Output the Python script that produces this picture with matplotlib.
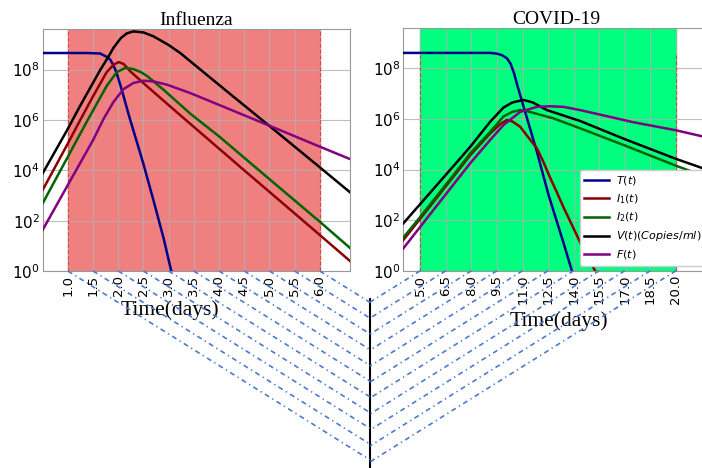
import numpy as np
import matplotlib
matplotlib.use("Agg")
import matplotlib.pyplot as plt
from matplotlib.lines import Line2D
from matplotlib.ticker import NullLocator

# ---- Influenza (days, values)
flu_T_t = [0.5, 1.4, 1.64, 1.78, 1.84, 1.91, 1.97, 2.07, 2.22, 2.5, 2.7, 2.9, 3.04, 3.15]
flu_T = [4.57e8, 4.57e8, 4.37e8, 3.16e8, 2.51e8, 1.41e8, 7.08e7, 1.58e7, 1.32e6, 1.78e4, 631, 20, 1.26, 0.2]
flu_I1_t = [0.5, 1.0, 1.24, 1.51, 1.77, 1.91, 2.01, 2.11, 2.24, 2.57, 3.23, 4.5, 5.5, 6.0, 6.61]
flu_I1 = [1.66e3, 1.17e5, 9.5e5, 9.5e6, 7.94e7, 1.58e8, 2.0e8, 1.66e8, 8.5e7, 2.19e7, 1.55e6, 1.0e4, 195, 27, 2.4]
flu_I2_t = [0.5, 1.0, 1.38, 1.77, 1.97, 2.14, 2.3, 2.45, 2.57, 2.9, 3.43, 4.0, 5.0, 6.0, 6.61]
flu_I2 = [490, 3.47e4, 8.9e5, 2.24e7, 7.94e7, 1.17e8, 1.05e8, 7.94e7, 5.62e7, 1.58e7, 1.78e6, 2.24e5, 4.47e3, 91, 7.9]
flu_V_t = [0.5, 1.0, 1.24, 1.64, 1.80, 1.91, 2.05, 2.17, 2.3, 2.5, 2.7, 3.0, 3.23, 3.43, 4.29, 5.05, 6.0, 6.61]
flu_V = [7.6e3, 4.47e5, 3.55e6, 9.5e7, 3.16e8, 7.6e8, 1.78e9, 2.75e9, 3.3e9, 3.0e9, 2.1e9, 9.5e8, 4.57e8, 2.14e8, 8.3e6, 4.8e5, 1.32e4, 1.29e3]
flu_F_t = [0.5, 1.0, 1.5, 1.71, 1.9, 2.1, 2.3, 2.5, 2.7, 2.97, 3.43, 4.29, 5.05, 6.0, 6.61]
flu_F = [43, 2.63e3, 1.58e5, 1.12e6, 5.0e6, 1.66e7, 2.95e7, 3.63e7, 3.39e7, 2.51e7, 1.17e7, 2.29e6, 5.4e5, 8.7e4, 2.75e4]

# ---- COVID-19
cov_T_t = [4.0, 9.1, 9.49, 9.8, 10.08, 10.3, 10.5, 10.7, 11.25, 11.84, 12.52, 13.4, 13.89, 14.1]
cov_T = [4.07e8, 4.07e8, 3.8e8, 3.3e8, 2.5e8, 1.5e8, 6.3e7, 2.0e7, 1.12e6, 5.0e4, 1.0e3, 12.6, 1.0, 0.32]
cov_I1_t = [4.0, 5.0, 7.0, 7.93, 9.1, 9.7, 10.08, 10.4, 10.86, 11.3, 11.84, 12.22, 12.6, 13.0, 13.4, 14.57, 15.25, 15.6]
cov_I1 = [16.2, 115, 5.9e3, 3.7e4, 2.7e5, 6.3e5, 9.1e5, 7.94e5, 4.9e5, 2.0e5, 6.9e4, 2.0e4, 5.0e3, 1.3e3, 320, 7.1, 1.0, 0.4]
cov_I2_t = [4.0, 5.0, 7.0, 7.93, 9.1, 9.88, 10.4, 10.86, 11.3, 12.0, 12.81, 14.37, 17.0, 20.0, 22.0]
cov_I2 = [20.4, 135, 6.8e3, 4.37e4, 3.1e5, 1.26e6, 1.9e6, 2.24e6, 2.0e6, 1.48e6, 1.05e6, 4.27e5, 8.9e4, 1.41e4, 4.47e3]
cov_V_t = [4.0, 5.0, 7.0, 7.93, 9.1, 9.88, 10.4, 11.05, 11.6, 12.42, 14.37, 17.0, 20.0, 22.0]
cov_V = [74, 437, 1.51e4, 7.94e4, 7.76e5, 2.82e6, 4.47e6, 5.62e6, 4.47e6, 2.24e6, 8.3e5, 1.58e5, 2.63e4, 8.9e3]
cov_F_t = [4.0, 5.0, 7.93, 9.1, 9.88, 10.86, 11.84, 12.6, 13.4, 14.37, 17.5, 20.0, 22.0]
cov_F = [7.6, 55, 1.78e4, 1.48e5, 5.75e5, 1.9e6, 3.0e6, 3.16e6, 3.0e6, 2.24e6, 7.4e5, 3.55e5, 1.74e5]

flu_ticks = [1.0, 1.5, 2.0, 2.5, 3.0, 3.5, 4.0, 4.5, 5.0, 5.5, 6.0]
cov_ticks = [5.0, 6.5, 8.0, 9.5, 11.0, 12.5, 14.0, 15.5, 17.0, 18.5, 20.0]
yticks = [1e0, 1e2, 1e4, 1e6, 1e8]

labels = ["$T(t)$", "$I_1(t)$", "$I_2(t)$", "$V(t)(Copies/ml)$", "$F(t)$"]
colors = ["darkblue", "darkred", "darkgreen", "black", "purple"]

serif = "Liberation Serif"

fig = plt.figure(figsize=(7.02, 4.68), dpi=100)
ax1 = fig.add_axes([0.0608, 0.4209, 0.4378, 0.5165])
ax2 = fig.add_axes([0.5745, 0.4216, 0.437, 0.519])


def panel(ax, curves, ticks, xlim, span_col, title):
    ax.axvspan(ticks[0], ticks[-1], color=span_col, zorder=0.5)
    top = max(max(c[1]) for c in curves)
    # dashed edges of the span, above the grid but under the curves
    ax.vlines([ticks[0], ticks[-1]], 1, top, colors="red", linestyles="--",
              lw=0.8, alpha=0.6, zorder=1.9)
    for (t, v), c, lab in zip(curves, colors, labels):
        ax.plot(t, v, color=c, lw=1.8, label=lab, zorder=3)
    ax.set_yscale("log")
    ax.set_ylim(1, 4e9)
    ax.set_xlim(*xlim)
    ax.set_yticks(yticks)
    ax.yaxis.set_minor_locator(NullLocator())
    ax.set_xticks(ticks)
    ax.set_xticklabels(["%.1f" % t for t in ticks], rotation=90)
    ax.tick_params(axis="both", length=0)
    ax.tick_params(axis="y", labelsize=11, pad=2)
    ax.tick_params(axis="x", labelsize=9.5, pad=3)
    ax.set_axisbelow(True)
    ax.grid(True, color="#b0b0b0", lw=0.8, alpha=0.8)
    for s in ax.spines.values():
        s.set_color("0.6")
    ax.set_title(title, family=serif, fontsize=14, pad=3)
    ax.set_xlabel("Time(days)", family=serif, fontsize=15.5)


panel(ax1, [(flu_T_t, flu_T), (flu_I1_t, flu_I1), (flu_I2_t, flu_I2), (flu_V_t, flu_V), (flu_F_t, flu_F)],
      flu_ticks, (0.5, 6.6), "lightcoral", "Influenza")
panel(ax2, [(cov_T_t, cov_T), (cov_I1_t, cov_I1), (cov_I2_t, cov_I2), (cov_V_t, cov_V), (cov_F_t, cov_F)],
      cov_ticks, (4.0, 22.0), "springgreen", "COVID-19")

ax1.xaxis.set_label_coords(0.414, -0.123)
ax2.xaxis.set_label_coords(0.508, -0.167)
ax2.legend(loc="lower left", bbox_to_anchor=(0.576, 0.02), borderaxespad=0,
           fontsize=8, labelspacing=0.45, handlelength=2.2, handletextpad=0.6,
           framealpha=1)

# links from the x ticks down to a vertical centre line
x_mid = 0.527
fig.add_artist(Line2D([x_mid, x_mid], [0, 0.361], color="black", lw=1.5))
to_fig = fig.transFigure.inverted()
W = fig.get_figwidth() * fig.dpi
slope = 0.625
for ax, ticks in [(ax1, flu_ticks), (ax2, cov_ticks)]:
    for t in ticks:
        px, py = ax.transData.transform((t, 1))
        ex = x_mid * W
        ey = py - slope * abs(ex - px)
        (x0, y0), (x1, y1) = to_fig.transform([(px, py), (ex, ey)])
        fig.add_artist(Line2D([x0, x1], [y0, y1], color="#4a7bd0", lw=1.2,
                              linestyle=(0, (3, 2.2, 0.8, 2.2))))

fig.savefig("out.png", dpi=100)
